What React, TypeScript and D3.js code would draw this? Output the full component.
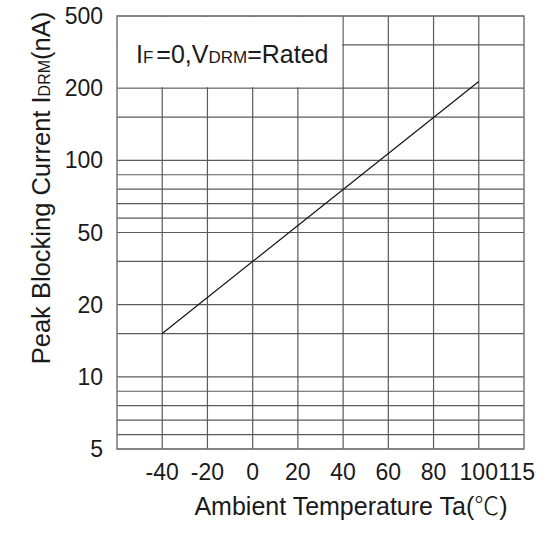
import React from "react";
import * as d3 from "d3";

const xTicks = [-40, -20, 0, 20, 40, 60, 80, 100, 115];
const xGrid = [-40, -20, 0, 20, 40, 60, 80, 100];
const yTicks = [5, 10, 20, 50, 100, 200, 500];
const yMinor = [6, 7, 8, 9, 16, 38, 60, 70, 80, 90, 160, 380];
const lineTemps = [-40, 100];
const lineCurrent = [16, 228];

const W = 555;
const H = 535;
const left = 117;
const right = 524;
const top = 16;
const bottom = 449;
const FONT = "'Liberation Sans', Arial, 'Noto Sans CJK SC', sans-serif";

export default function App() {
  const x = d3.scaleLinear().domain([-60, 120]).range([left, right]);
  const step = (bottom - top) / (yTicks.length - 1);
  const y = d3
    .scaleLinear()
    .domain(yTicks)
    .range(yTicks.map((_, i) => bottom - i * step));

  const pts = lineTemps.map((t, i) => [x(t), y(lineCurrent[i])] as [number, number]);
  const linePath = d3.line()(pts) || "";
  const gridColor = "#5a5a5a";

  return (
    <svg
      width={W}
      height={H}
      style={{ position: "absolute", left: 0, top: 0, background: "#fff" }}
      fontFamily={FONT}
    >
      <rect x={0} y={0} width={W} height={H} fill="#fff" />
      {[...yTicks, ...yMinor].map((v) => (
        <line
          key={"h" + v}
          x1={left}
          x2={right}
          y1={y(v)}
          y2={y(v)}
          stroke={gridColor}
          strokeWidth={1.2}
        />
      ))}
      {xGrid.map((v) => (
        <line
          key={"v" + v}
          x1={x(v)}
          x2={x(v)}
          y1={top}
          y2={bottom}
          stroke={gridColor}
          strokeWidth={1.2}
        />
      ))}
      <rect
        x={left + 1}
        y={top + 1}
        width={x(40) - left - 2}
        height={y(200) - top - 2}
        fill="#fff"
      />
      <text x={136} y={63} fontSize={25} fill="#1a1a1a">
        I<tspan fontSize={17}>F</tspan>
        <tspan dx={3}>=0,V</tspan>
        <tspan fontSize={17}>DRM</tspan>
        <tspan>=Rated</tspan>
      </text>
      <rect
        x={left}
        y={top}
        width={right - left}
        height={bottom - top}
        fill="none"
        stroke="#777"
        strokeWidth={1.5}
      />
      <path d={linePath} fill="none" stroke="#111" strokeWidth={1.2} />
      {yTicks.map((v) => (
        <text
          key={"yl" + v}
          x={103}
          y={y(v)}
          textAnchor="end"
          dominantBaseline="central"
          fontSize={23}
          fill="#1a1a1a"
        >
          {v}
        </text>
      ))}
      {xTicks.map((v) => (
        <text
          key={"xl" + v}
          x={x(v) + (v === 115 ? 4 : 0)}
          y={480}
          textAnchor="middle"
          fontSize={23}
          fill="#1a1a1a"
        >
          {v}
        </text>
      ))}
      <text x={351} y={515} textAnchor="middle" fontSize={25} fill="#1a1a1a">
        Ambient Temperature Ta(
        <tspan fontFamily="'Noto Sans CJK SC', sans-serif" fontWeight={300}>
          ℃
        </tspan>
        )
      </text>
      <text
        transform={`translate(50,188) rotate(-90)`}
        textAnchor="middle"
        fontSize={25.5}
        fill="#1a1a1a"
      >
        Peak Blocking Current I<tspan fontSize={16}>DRM</tspan>(nA)
      </text>
    </svg>
  );
}
